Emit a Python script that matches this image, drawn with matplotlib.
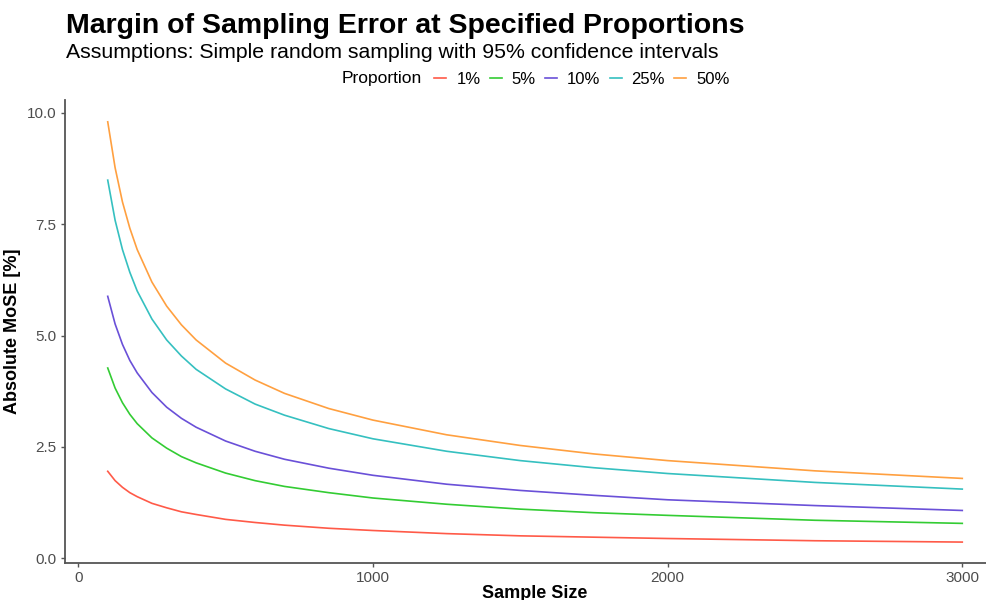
import numpy as np
import matplotlib
matplotlib.use("Agg")
import matplotlib.pyplot as plt

plt.rcParams['font.family'] = ['Liberation Sans', 'DejaVu Sans']

# sample sizes and margin of error (%)
sample_size = [100, 125, 150, 175, 200, 250, 300, 350, 400, 500, 600, 700,
               850, 1000, 1250, 1500, 1750, 2000, 2500, 3000]
mose_1 = [1.95, 1.74, 1.59, 1.47, 1.38, 1.23, 1.13, 1.04, 0.98, 0.87, 0.80, 0.74,
          0.67, 0.62, 0.55, 0.50, 0.47, 0.44, 0.39, 0.36]
mose_5 = [4.27, 3.82, 3.49, 3.23, 3.02, 2.70, 2.47, 2.28, 2.14, 1.91, 1.74, 1.61,
          1.47, 1.35, 1.21, 1.10, 1.02, 0.96, 0.85, 0.78]
mose_10 = [5.88, 5.26, 4.80, 4.44, 4.16, 3.72, 3.39, 3.14, 2.94, 2.63, 2.40, 2.22,
           2.02, 1.86, 1.66, 1.52, 1.41, 1.31, 1.18, 1.07]
mose_25 = [8.49, 7.59, 6.93, 6.42, 6.00, 5.37, 4.90, 4.54, 4.24, 3.80, 3.46, 3.21,
           2.91, 2.68, 2.40, 2.19, 2.03, 1.90, 1.70, 1.55]
mose_50 = [9.80, 8.77, 8.00, 7.41, 6.93, 6.20, 5.66, 5.24, 4.90, 4.38, 4.00, 3.70,
           3.36, 3.10, 2.77, 2.53, 2.34, 2.19, 1.96, 1.79]

labels = ["1%", "5%", "10%", "25%", "50%"]
series = [mose_1, mose_5, mose_10, mose_25, mose_50]
colors = ["#FF5A48", "#33CC33", "#6A50D8", "#35C0C0", "#FFA040"]

fig = plt.figure(figsize=(9.86, 6.0), dpi=100)
ax = fig.add_axes([65/986, 37/600, 940/986, 463/600])

handles = []
for lab, vals, c in zip(labels, series, colors):
    h, = ax.plot(sample_size, vals, color=c, lw=1.2, label=lab)
    handles.append(h)

ax.set_xlim(-45, 3145)
ax.set_ylim(-0.11, 10.29)
ax.set_xticks([0, 1000, 2000, 3000])
ax.set_yticks([0, 2.5, 5, 7.5, 10])
ax.set_yticklabels(["0.0", "2.5", "5.0", "7.5", "10.0"])
ax.tick_params(colors="#555555", labelsize=11, length=3, width=1.0, pad=3)
ax.tick_params(axis="both", labelcolor="#4d4d4d")
for s in ["top", "right"]:
    ax.spines[s].set_visible(False)
for s in ["left", "bottom"]:
    ax.spines[s].set_color("#555555")
    ax.spines[s].set_linewidth(1.3)

ax.set_xlabel("Sample Size", fontsize=13, fontweight="bold", labelpad=0)
ax.set_ylabel("Absolute MoSE [%]", fontsize=13, fontweight="bold", labelpad=4)

fig.text(66/986, 1 - 33/600, "Margin of Sampling Error at Specified Proportions",
         fontsize=20.5, fontweight="bold", va="baseline")
fig.text(66/986, 1 - 58/600, "Assumptions: Simple random sampling with 95% confidence intervals",
         fontsize=15.3, va="baseline")
fig.text(342/986, 1 - 79/600, "Proportion", fontsize=12.5, va="center")
fig.legend(handles=handles, labels=labels, loc="center", bbox_to_anchor=(582/986, 1 - 79/600),
           ncol=5, frameon=False, fontsize=12, handlelength=0.72, handletextpad=0.6,
           columnspacing=0.55, borderpad=0, borderaxespad=0)

fig.savefig("out.png", dpi=100)
